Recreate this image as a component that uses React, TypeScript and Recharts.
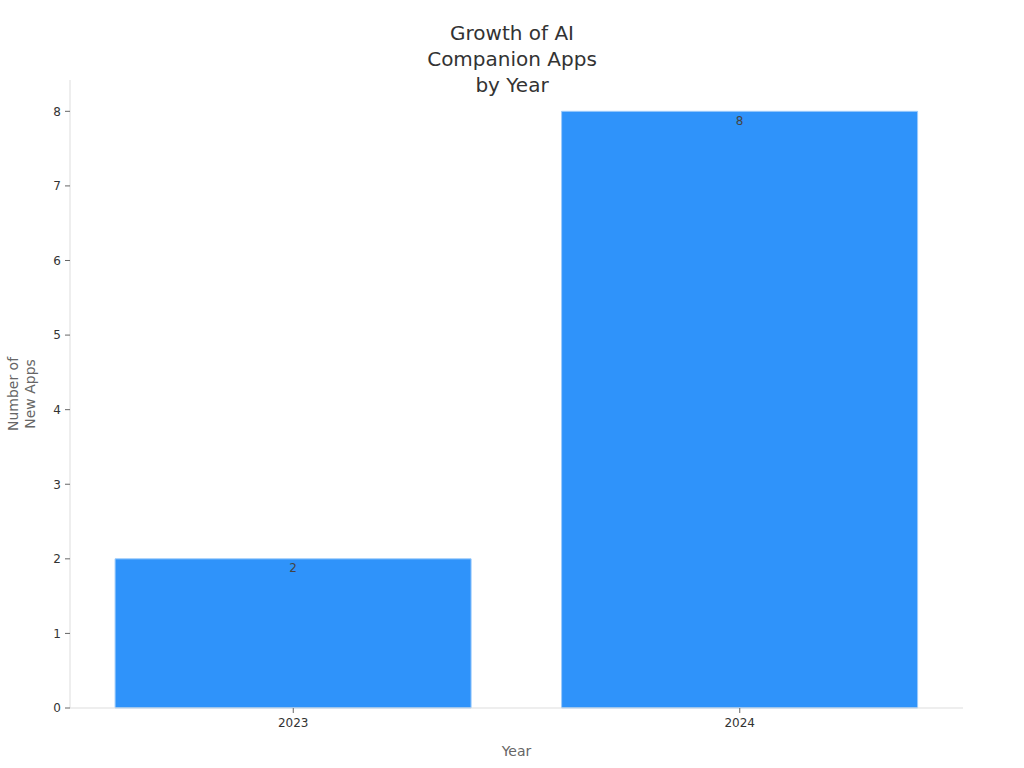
import React from 'react';
import { BarChart, Bar, XAxis, YAxis, LabelList, Label } from 'recharts';

const years = ['2023', '2024'];
const newApps = [2, 8];
const yTicks = [0, 1, 2, 3, 4, 5, 6, 7, 8];
const titleLines = ['Growth of AI', 'Companion Apps', 'by Year'];
const yLabelLines = ['Number of', 'New Apps'];

const data = years.map((year, i) => ({ year, apps: newApps[i] }));

const font = '"DejaVu Sans", sans-serif';

const YLabel = (props: any) => {
    const { viewBox } = props;
    const cy = viewBox.y + viewBox.height / 2;
    const x = 22;
    return (
        <text x={x} y={cy} transform={`rotate(-90, ${x}, ${cy})`} textAnchor="middle" fill="#666" fontSize={14} fontFamily={font}>
            <tspan x={x} dy={-4}>{yLabelLines[0]}</tspan>
            <tspan x={x} dy={17}>{yLabelLines[1]}</tspan>
        </text>
    );
};

export default function App() {
    return (
        <div style={{ position: 'absolute', left: 0, top: 0, width: 1024, height: 768, background: '#fff', fontFamily: font }}>
            <div style={{ position: 'absolute', top: 20, left: 0, width: 1024, textAlign: 'center', fontSize: 20, lineHeight: '26px', color: '#333' }}>
                {titleLines.map(l => <div key={l}>{l}</div>)}
            </div>
            <BarChart width={1024} height={768} data={data} margin={{ top: 80, right: 61, bottom: 20, left: 0 }} barCategoryGap="10.1%">
                <XAxis dataKey="year" axisLine={{ stroke: '#ddd' }} tickLine={{ stroke: '#666' }} tickSize={5} tickMargin={5} height={40}
                    tick={{ fill: '#333', fontSize: 12, fontFamily: font }}>
                    <Label value="Year" position="bottom" offset={-2} fill="#666" fontSize={14} fontFamily={font} />
                </XAxis>
                <YAxis width={70} domain={[0, 8.42]} ticks={yTicks} axisLine={{ stroke: '#ddd' }} tickLine={{ stroke: '#666' }} tickSize={5} tickMargin={4}
                    tick={{ fill: '#333', fontSize: 12, fontFamily: font }}>
                    <Label content={<YLabel />} />
                </YAxis>
                <Bar dataKey="apps" fill="#2f93fa" stroke="#9ccbfb" strokeWidth={1} isAnimationActive={false}>
                    <LabelList dataKey="apps" position="insideTop" offset={5} fill="#444" fontSize={12} fontFamily={font} />
                </Bar>
            </BarChart>
        </div>
    );
}
